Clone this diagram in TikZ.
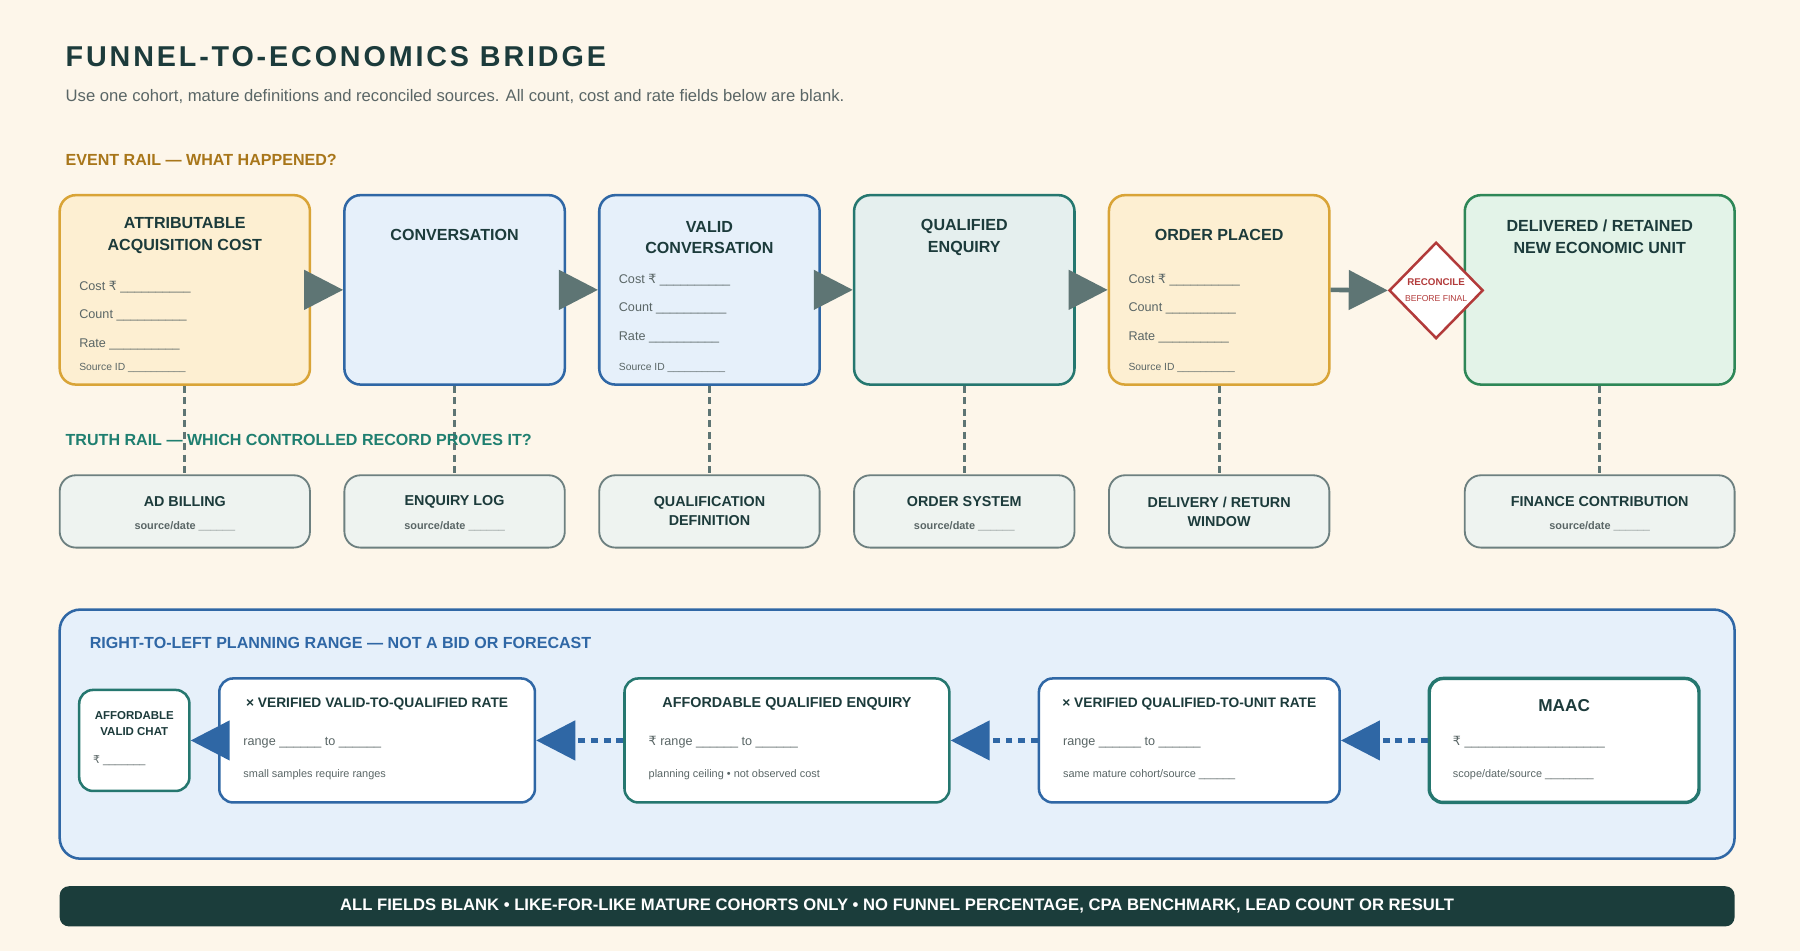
\documentclass[tikz,border=0pt]{standalone}
\usepackage{fontspec}
\setmainfont{Liberation Sans}
\newfontfamily\titlefont[LetterSpace=10]{Liberation Sans}
\newfontfamily\symfont{DejaVu Sans}
\usetikzlibrary{positioning,calc,shapes.geometric,arrows.meta}
\definecolor{bg}{HTML}{FDF6EA}
\definecolor{ink}{HTML}{1C3B3B}
\definecolor{soft}{HTML}{5A6666}
\definecolor{gold}{HTML}{A8761A}
\definecolor{truthink}{HTML}{1F7F70}
\definecolor{orfill}{HTML}{FDEFD2}
\definecolor{orline}{HTML}{D9A437}
\definecolor{blfill}{HTML}{E6F0FA}
\definecolor{blline}{HTML}{2F67A5}
\definecolor{tefill}{HTML}{E5EFEE}
\definecolor{teline}{HTML}{25776F}
\definecolor{grfill}{HTML}{E3F3E8}
\definecolor{grline}{HTML}{2E8757}
\definecolor{arrowgray}{HTML}{5E7574}
\definecolor{trfill}{HTML}{EEF3F0}
\definecolor{trline}{HTML}{6D8080}
\definecolor{recred}{HTML}{B23A3A}
\definecolor{footer}{HTML}{1B3D3B}
\newcommand{\fs}[1]{\fontsize{#1}{#1}\selectfont}
\newcommand{\rs}{{\symfont ₹}}
% four field lines inside an event box
\newcommand{\evtfields}[6]{%
  \node[field] (#1f1) at ($(#1.north west)+(18,#2)$) {#3};
  \node[field] (#1f2) at ($(#1.north west)+(18,#2+25)$) {Count \_\_\_\_\_\_\_\_\_\_};
  \node[field] (#1f3) at ($(#1.north west)+(18,#2+50)$) {Rate \_\_\_\_\_\_\_\_\_\_};
  \node[field, font=\fs{9}] (#1f4) at ($(#1.north west)+(18,152)$) {#4 \_\_\_\_\_\_\_\_\_\_};}

\begin{document}
\begin{tikzpicture}[x=1pt, y=-1pt,
    evt/.style={rectangle, rounded corners=14pt, line width=2.2pt, minimum height=165pt},
    truth/.style={rectangle, rounded corners=14pt, line width=1.6pt, draw=trline, fill=trfill, minimum height=63pt, align=center, text=ink},
    plan/.style={rectangle, rounded corners=12pt, line width=2.2pt, fill=white, minimum height=108pt},
    head/.style={align=center, text=ink, font=\bfseries\fs{14}, inner sep=0pt},
    field/.style={anchor=west, text=soft, font=\fs{11}, inner sep=0pt},
    sub/.style={anchor=west, text=soft, font=\fs{9.5}, inner sep=0pt},
    flow/.style={arrowgray, line width=4pt, -{Triangle[length=34pt,width=34pt]}},
    back/.style={blline, line width=4pt, dash pattern=on 6pt off 5pt, -{Triangle[length=34pt,width=34pt]}},
    proof/.style={arrowgray, line width=2.5pt, dash pattern=on 6pt off 4pt}
  ]
\useasboundingbox (0,0) rectangle (1568,828);
\fill[bg] (0,0) rectangle (1568,828);

% headings
\node[anchor=west, text=ink, font=\titlefont\bfseries\fs{25}, inner sep=0pt] (title) at (57,49) {FUNNEL-TO-ECONOMICS BRIDGE};
\node[anchor=west, text=soft, font=\fs{14.5}, inner sep=0pt] (subtitle) at (57,84) {Use one cohort, mature definitions and reconciled sources. All count, cost and rate fields below are blank.};
\node[anchor=west, text=gold, font=\bfseries\fs{14}, inner sep=0pt] (eventrail) at (57,139) {EVENT RAIL — WHAT HAPPENED?};

% event rail
\node[evt, fill=orfill, draw=orline, minimum width=218pt] (aac) at (161,252.5) {};
\node[evt, fill=blfill, draw=blline, minimum width=192pt] (conv) at (396,252.5) {};
\node[evt, fill=blfill, draw=blline, minimum width=192pt] (valid) at (618,252.5) {};
\node[evt, fill=tefill, draw=teline, minimum width=192pt] (qual) at (840,252.5) {};
\node[evt, fill=orfill, draw=orline, minimum width=192pt] (order) at (1062,252.5) {};
\node[evt, fill=grfill, draw=grline, minimum width=235pt] (unit) at (1393.5,252.5) {};

\node[head] (aact) at ($(aac.north)+(0,36)$) {ATTRIBUTABLE\\[5pt]ACQUISITION COST};
\node[head] (convt) at ($(conv.north)+(0,36)$) {CONVERSATION};
\node[head] (validt) at ($(valid.north)+(0,38)$) {VALID\\[5pt]CONVERSATION};
\node[head] (qualt) at ($(qual.north)+(0,38)$) {QUALIFIED\\[5pt]ENQUIRY};
\node[head] (ordert) at ($(order.north)+(0,36)$) {ORDER PLACED};
\node[head] (unitt) at ($(unit.north)+(0,37)$) {DELIVERED / RETAINED\\[5pt]NEW ECONOMIC UNIT};

\evtfields{aac}{81}{Cost \rs{} \_\_\_\_\_\_\_\_\_\_}{Source ID}
\evtfields{conv}{75}{Cost \rs{} \_\_\_\_\_\_\_\_\_\_}{Source ID}
\evtfields{valid}{75}{Cost \rs{} \_\_\_\_\_\_\_\_\_\_}{Source ID}
\evtfields{qual}{75}{Cost \rs{} \_\_\_\_\_\_\_\_\_\_}{Source ID}
\evtfields{order}{75}{Cost \rs{} \_\_\_\_\_\_\_\_\_\_}{Source ID}
\evtfields{unit}{75}{Contribution \rs{} \_\_\_\_\_\_\_\_\_\_}{Finance source}

\node[diamond, draw=recred, line width=2.2pt, fill=white, minimum width=82pt, minimum height=84pt, inner sep=0pt] (recon) at (1251,253) {};
\node[text=recred, font=\bfseries\fs{8.5}, inner sep=0pt] (recont) at (1251,246) {RECONCILE};
\node[text=recred, font=\fs{7.5}, inner sep=0pt] (reconb) at (1251,260) {BEFORE FINAL};

\draw[flow] (aac.east) -- (conv.west);
\draw[flow] (conv.east) -- (valid.west);
\draw[flow] (valid.east) -- (qual.west);
\draw[flow] (qual.east) -- (order.west);
\draw[flow] (order.east) -- (recon.west);

% truth rail
\node[truth, minimum width=218pt] (billing) at (161,445.5) {};
\node[truth, minimum width=192pt] (enqlog) at (396,445.5) {};
\node[truth, minimum width=192pt] (qdef) at (618,445.5) {};
\node[truth, minimum width=192pt] (ordsys) at (840,445.5) {};
\node[truth, minimum width=192pt] (delwin) at (1062,445.5) {};
\node[truth, minimum width=235pt] (fincon) at (1393.5,445.5) {};

\draw[proof] (aac.south) -- (billing.north);
\draw[proof] (conv.south) -- (enqlog.north);
\draw[proof] (valid.south) -- (qdef.north);
\draw[proof] (qual.south) -- (ordsys.north);
\draw[proof] (order.south) -- (delwin.north);
\draw[proof] (unit.south) -- (fincon.north);

\node[anchor=west, text=truthink, font=\bfseries\fs{14}, inner sep=0pt] (truthrail) at (57,383) {TRUTH RAIL — WHICH CONTROLLED RECORD PROVES IT?};

\node[head, font=\bfseries\fs{12.5}] (billingt) at ($(billing.north)+(0,24)$) {AD BILLING};
\node[head, font=\bfseries\fs{12.5}] (enqlogt) at ($(enqlog.north)+(0,24)$) {ENQUIRY LOG};
\node[head, font=\bfseries\fs{12.5}] (qdeft) at (qdef.center) {QUALIFICATION\\[4pt]DEFINITION};
\node[head, font=\bfseries\fs{12.5}] (ordsyst) at ($(ordsys.north)+(0,24)$) {ORDER SYSTEM};
\node[head, font=\bfseries\fs{12.5}] (delwint) at (delwin.center) {DELIVERY / RETURN\\[4pt]WINDOW};
\node[head, font=\bfseries\fs{12.5}] (fincont) at ($(fincon.north)+(0,24)$) {FINANCE CONTRIBUTION};
\node[text=soft, font=\bfseries\fs{9.5}, inner sep=0pt] (billings) at ($(billing.north)+(0,45)$) {source/date \_\_\_\_\_\_};
\node[text=soft, font=\bfseries\fs{9.5}, inner sep=0pt] (enqlogs) at ($(enqlog.north)+(0,45)$) {source/date \_\_\_\_\_\_};
\node[text=soft, font=\bfseries\fs{9.5}, inner sep=0pt] (ordsyss) at ($(ordsys.north)+(0,45)$) {source/date \_\_\_\_\_\_};
\node[text=soft, font=\bfseries\fs{9.5}, inner sep=0pt] (fincons) at ($(fincon.north)+(0,45)$) {source/date \_\_\_\_\_\_};

% planning range
\node[rectangle, rounded corners=18pt, line width=2.2pt, draw=blline, fill=blfill, minimum width=1459pt, minimum height=217pt] (panel) at (781.5,639.5) {};
\node[anchor=west, text=blline, font=\bfseries\fs{14}, inner sep=0pt] (panelt) at (78,560) {RIGHT-TO-LEFT PLANNING RANGE — NOT A BID OR FORECAST};

\node[plan, draw=teline, minimum width=96pt, minimum height=88pt] (chat) at (117,645) {};
\node[plan, draw=blline, minimum width=275pt] (vtoq) at (328.5,645) {};
\node[plan, draw=teline, minimum width=283pt] (afq) at (685.5,645) {};
\node[plan, draw=blline, minimum width=262pt] (qtou) at (1036,645) {};
\node[plan, draw=teline, line width=3pt, minimum width=235pt] (maac) at (1362.5,645) {};

\node[head, font=\bfseries\fs{10}] (chatt) at ($(chat.north)+(0,30)$) {AFFORDABLE\\[4pt]VALID CHAT};
\node[sub] (chatf) at ($(chat.north west)+(13,63)$) {\rs{} \_\_\_\_\_\_\_};
\node[head, font=\bfseries\fs{12}] (vtoqt) at ($(vtoq.north)+(0,23)$) {× VERIFIED VALID-TO-QUALIFIED RATE};
\node[field] (vtoqf) at ($(vtoq.north west)+(22,57)$) {range \_\_\_\_\_\_ to \_\_\_\_\_\_};
\node[sub] (vtoqs) at ($(vtoq.north west)+(22,85)$) {small samples require ranges};
\node[head, font=\bfseries\fs{12.5}] (afqt) at ($(afq.north)+(0,23)$) {AFFORDABLE QUALIFIED ENQUIRY};
\node[field] (afqf) at ($(afq.north west)+(22,57)$) {\rs{} range \_\_\_\_\_\_ to \_\_\_\_\_\_};
\node[sub] (afqs) at ($(afq.north west)+(22,85)$) {planning ceiling • not observed cost};
\node[head, font=\bfseries\fs{12}] (qtout) at ($(qtou.north)+(0,23)$) {× VERIFIED QUALIFIED-TO-UNIT RATE};
\node[field] (qtouf) at ($(qtou.north west)+(22,57)$) {range \_\_\_\_\_\_ to \_\_\_\_\_\_};
\node[sub] (qtous) at ($(qtou.north west)+(22,85)$) {same mature cohort/source \_\_\_\_\_\_};
\node[head, font=\bfseries\fs{15}] (maact) at ($(maac.north)+(0,25)$) {MAAC};
\node[field] (maacf) at ($(maac.north west)+(22,57)$) {\rs{} \_\_\_\_\_\_\_\_\_\_\_\_\_\_\_\_\_\_\_\_};
\node[sub] (maacs) at ($(maac.north west)+(22,85)$) {scope/date/source \_\_\_\_\_\_\_\_};

\draw[back] (vtoq.west) -- (chat.east);
\draw[back] (afq.west) -- (vtoq.east);
\draw[back] (qtou.west) -- (afq.east);
\draw[back] (maac.west) -- (qtou.east);

% footer
\node[rectangle, rounded corners=8pt, fill=footer, minimum width=1459pt, minimum height=35pt, text=white, font=\bfseries\fs{14.5}] (foot) at (781.5,789.5) {ALL FIELDS BLANK • LIKE-FOR-LIKE MATURE COHORTS ONLY • NO FUNNEL PERCENTAGE, CPA BENCHMARK, LEAD COUNT OR RESULT};
\end{tikzpicture}
\end{document}
